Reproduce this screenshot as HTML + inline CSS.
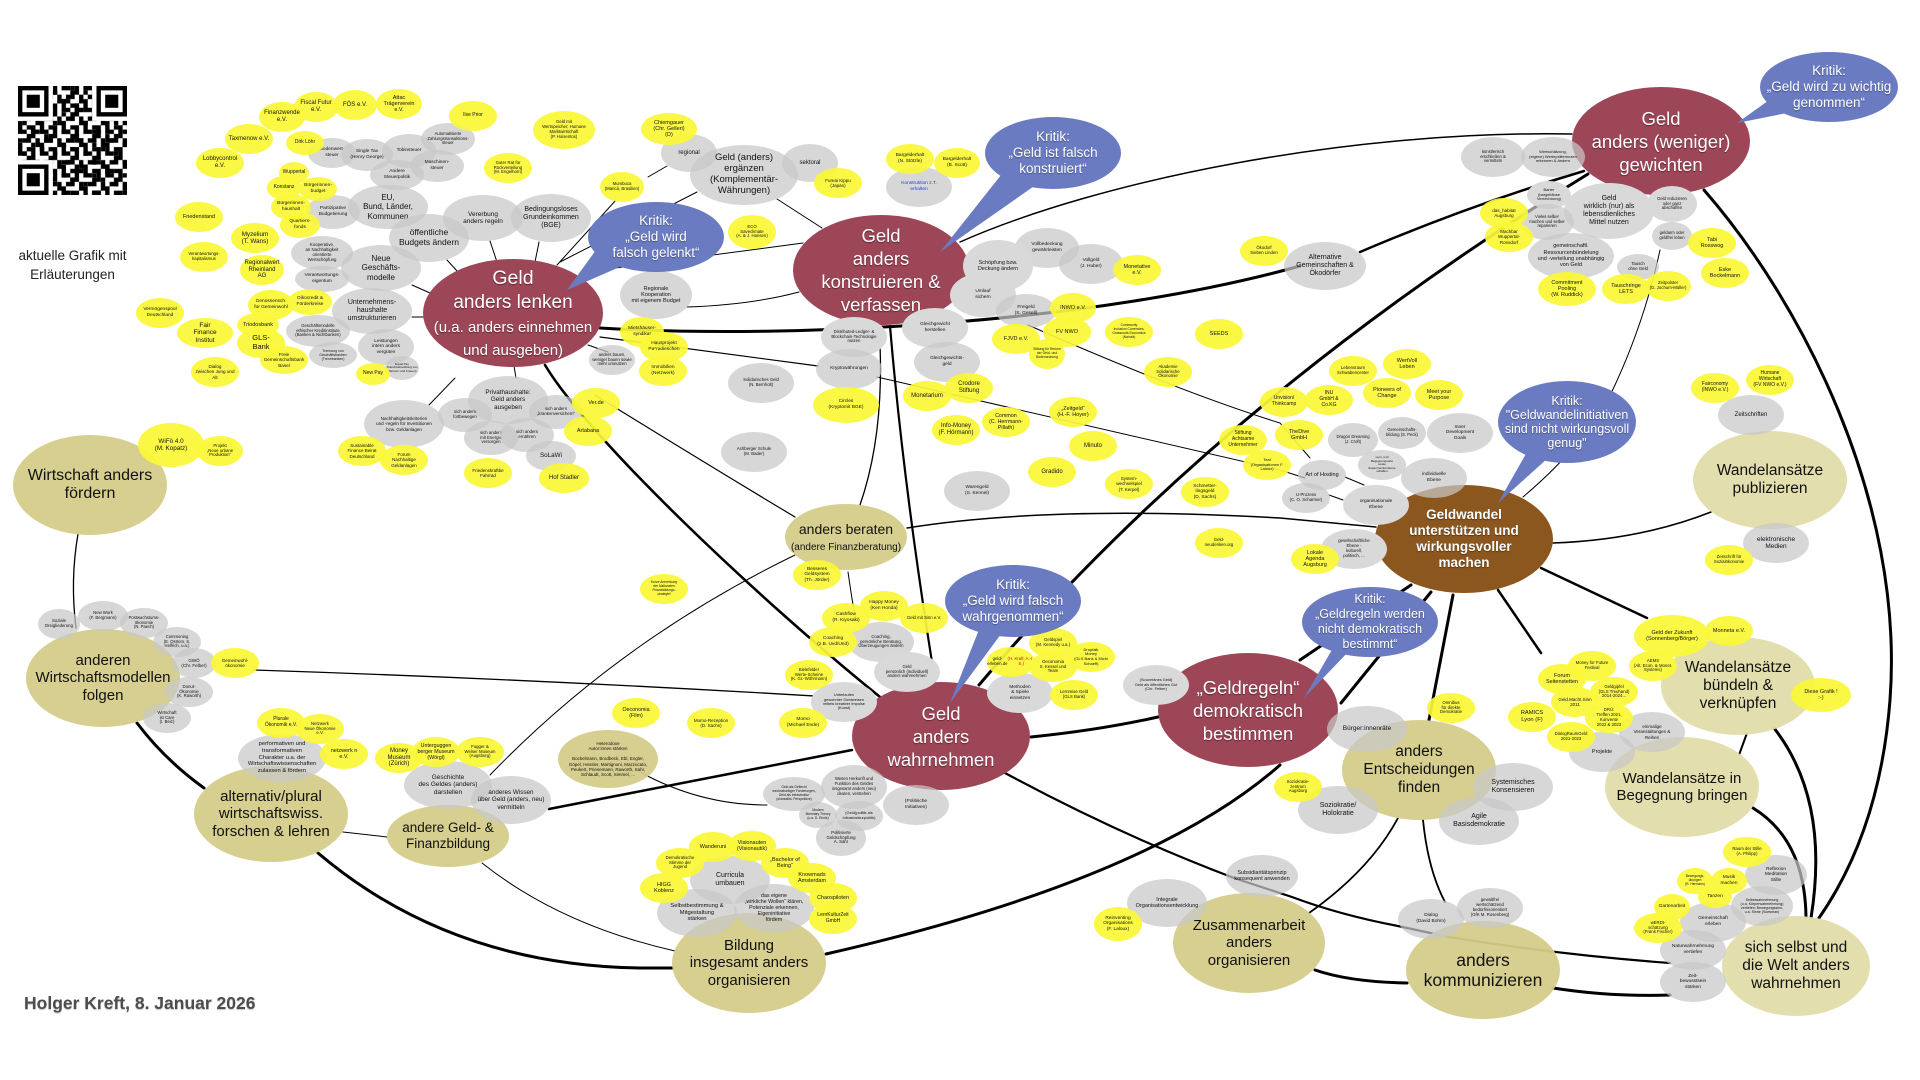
<!DOCTYPE html>
<html><head><meta charset="utf-8">
<style>
html,body{margin:0;padding:0;background:#fff}
body{width:1920px;height:1080px;position:relative;overflow:hidden;font-family:"Liberation Sans",Arial,sans-serif}
.n{position:absolute;border-radius:50%;display:flex;align-items:center;justify-content:center;text-align:center;line-height:1.15;color:#111;white-space:nowrap;box-sizing:border-box}
.y{background:rgba(250,248,55,.93);font-size:5.5px}
.g{background:rgba(200,200,200,.72);font-size:4.8px}
.go{background:#d9d9d9;font-size:4.8px}
.k{background:rgba(212,204,138,.95);font-size:15px}
.kl{background:rgba(225,221,170,.96);font-size:15.5px}
.m{background:#9d4657;color:#fff;font-size:18.5px;line-height:23px;text-shadow:0 1px 1px rgba(0,0,0,.45)}
.br{background:#8c561f;color:#fff;font-size:13.5px;line-height:16px;font-weight:bold;text-shadow:0 1px 1px rgba(0,0,0,.4)}
.b{background:#6a7bc1;color:#fff;font-size:13.5px;line-height:16px;text-shadow:0 1px 1px rgba(0,0,0,.35)}
svg{position:absolute;left:0;top:0}
</style></head><body>

<svg width="1920" height="1080" viewBox="0 0 1920 1080">
<g fill="none" stroke="#000" stroke-linecap="round">
<path d="M545,365 C590,440 760,600 880,697" stroke-width="2.6"/>
<path d="M890,326 Q903,480 932,662" stroke-width="2.2"/>
<path d="M879,326 Q886,430 860,505" stroke-width="1.3"/>
<path d="M600,328 C800,340 1100,322 1300,266" stroke-width="3"/>
<path d="M1360,252 Q1470,205 1584,171" stroke-width="2.5"/>
<path d="M979,685 Q1220,400 1588,174" stroke-width="3"/>
<path d="M960,242 C1100,180 1350,130 1572,134" stroke-width="1.5"/>
<path d="M1704,190 C1800,300 1905,500 1890,700 Q1880,830 1819,918" stroke-width="3"/>
<path d="M1774,728 Q1830,800 1811,918" stroke-width="3"/>
<path d="M1753,808 Q1805,840 1806,917" stroke-width="3"/>
<path d="M1739,755 L1747,733" stroke-width="2"/>
<path d="M1553,543 Q1640,540 1711,512" stroke-width="1.5"/>
<path d="M1541,568 L1647,618" stroke-width="2.5"/>
<path d="M1498,590 L1541,653" stroke-width="2.5"/>
<path d="M1453,595 L1429,720" stroke-width="3"/>
<path d="M1300,660 L1411,585" stroke-width="3"/>
<path d="M1341,703 L1431,592" stroke-width="3"/>
<path d="M1031,737 Q1100,730 1158,717" stroke-width="3"/>
<path d="M826,954 Q1150,880 1280,765" stroke-width="3"/>
<path d="M1005,773 Q1120,835 1234,878 L1292,897 Q1340,915 1398,926 L1449,937 Q1560,955 1670,963" stroke-width="2.2"/>
<path d="M1315,970 Q1350,982 1407,983" stroke-width="3"/>
<path d="M1553,988 Q1610,997 1670,995" stroke-width="3"/>
<path d="M1309,913 Q1370,870 1398,818" stroke-width="1.8"/>
<path d="M1423,820 Q1428,870 1445,902" stroke-width="1.8"/>
<path d="M549,809 L852,750" stroke-width="2.5"/>
<path d="M137,723 Q165,760 204,788" stroke-width="3"/>
<path d="M318,853 Q450,965 640,968 L673,968" stroke-width="3"/>
<path d="M482,863 Q560,925 675,951" stroke-width="1"/>
<path d="M343,832 L387,837" stroke-width="1"/>
<path d="M78,534 Q70,580 76,628" stroke-width="1.3"/>
<path d="M253,670 Q560,680 880,700" stroke-width="1.3"/>
<path d="M640,772 Q700,805 767,805" stroke-width="1"/>
<path d="M490,775 Q620,640 795,555" stroke-width="1"/>
<path d="M595,395 Q700,460 795,517" stroke-width="1.2"/>
<path d="M907,528 Q1050,505 1280,518 L1376,527" stroke-width="1.5"/>
<path d="M1028,325 Q1180,392 1280,423 L1310,458" stroke-width="1"/>
<path d="M877,377 L1280,470 L1305,478" stroke-width="1"/>
<path d="M600,337 L818,366" stroke-width="1.2"/>
<path d="M687,307 Q750,305 799,292" stroke-width="1"/>
<path d="M777,199 L822,228" stroke-width="1"/>
<path d="M600,270 L803,243" stroke-width="1"/>
<path d="M560,262 L697,192" stroke-width="1"/>
<path d="M648,177 L667,166" stroke-width="1"/>
<path d="M557,265 L616,200" stroke-width="1"/>
<path d="M490,241 L497,262 M539,242 L535,262 M447,260 L458,272 M412,285 L430,293 M412,317 L424,317 M514,366 L516,378 M455,378 L429,405 M588,345 L608,352" stroke-width="1"/>
<path d="M848,572 Q852,600 856,622" stroke-width="1"/>
<path d="M1523,497 Q1590,440 1615,385 Q1645,320 1660,250" stroke-width="1"/>
<path d="M1345,477 L1364,485 M1329,495 L1343,500" stroke-width="1"/>
</g>
</svg>

<!-- QR code -->
<svg width="109" height="109" viewBox="0 0 25 25" style="left:18px;top:86px">
<defs>
<pattern id="qp" width="5" height="5" patternUnits="userSpaceOnUse"><path d="M0 0h2v1h-2z M3 0h1v2h-1z M1 2h2v1h-2z M4 2h1v2h-1z M0 3h1v2h-1z M2 4h2v1h-2z M2 1h1v1h-1z" fill="#000"/></pattern>
<pattern id="qp2" width="7" height="7" patternUnits="userSpaceOnUse"><path d="M1 1h1v1h-1z M5 0h1v1h-1z M3 3h2v1h-2z M0 5h1v1h-1z M6 4h1v2h-1z M3 6h1v1h-1z" fill="#000"/></pattern>
</defs>
<rect width="25" height="25" fill="#fff"/>
<rect width="25" height="25" fill="url(#qp)"/>
<rect width="25" height="25" fill="url(#qp2)"/>
<g>
<rect x="0" y="0" width="8" height="8" fill="#fff"/><rect x="0" y="0" width="7" height="7" fill="#000"/><rect x="1" y="1" width="5" height="5" fill="#fff"/><rect x="2" y="2" width="3" height="3" fill="#000"/>
<rect x="17" y="0" width="8" height="8" fill="#fff"/><rect x="18" y="0" width="7" height="7" fill="#000"/><rect x="19" y="1" width="5" height="5" fill="#fff"/><rect x="20" y="2" width="3" height="3" fill="#000"/>
<rect x="0" y="17" width="8" height="8" fill="#fff"/><rect x="0" y="18" width="7" height="7" fill="#000"/><rect x="1" y="19" width="5" height="5" fill="#fff"/><rect x="2" y="20" width="3" height="3" fill="#000"/>
</g>
</svg>
<div style="position:absolute;left:0;top:246px;width:145px;text-align:center;font-size:13.5px;line-height:19px;color:#222">aktuelle Grafik mit<br>Erläuterungen</div>
<div style="position:absolute;left:24px;top:993px;font-size:17.5px;font-weight:bold;color:#4d4d4d;text-shadow:0 1px 1px rgba(0,0,0,.25)">Holger Kreft, 8. Januar 2026</div>

<!-- khaki nodes -->
<div class="n k" style="left:13px;top:435px;width:154px;height:100px;font-size:16px">Wirtschaft anders<br>fördern</div>
<div class="n k" style="left:26px;top:629px;width:154px;height:98px">anderen<br>Wirtschaftsmodellen<br>folgen</div>
<div class="n k" style="left:194px;top:766px;width:154px;height:96px">alternativ/plural<br>wirtschaftswiss.<br>forschen &amp; lehren</div>
<div class="n k" style="left:387px;top:805px;width:122px;height:62px;font-size:13.5px">andere Geld- &amp;<br>Finanzbildung</div>
<div class="n k" style="left:785px;top:504px;width:122px;height:66px;font-size:14px"><div>anders beraten<br><span style="font-size:10px">(andere Finanzberatung)</span></div></div>
<div class="n k" style="left:558px;top:730px;width:100px;height:58px;font-size:4.5px">Heterodoxe<br>Autor:innen stärken<br><br>Bockelmann, Brodbeck, Ebl, Engler,<br>Göpel, Hessler, Martignoni, Mazzucato,<br>Peukert, Priesemann, Raworth, Sahr,<br>Schlaudt, Scott, Simmel, ...</div>
<div class="n k" style="left:672px;top:913px;width:154px;height:100px">Bildung<br>insgesamt anders<br>organisieren</div>
<div class="n k" style="left:1173px;top:893px;width:152px;height:100px">Zusammenarbeit<br>anders<br>organisieren</div>
<div class="n k" style="left:1342px;top:720px;width:154px;height:100px;font-size:15.5px">anders<br>Entscheidungen<br>finden</div>
<div class="n k" style="left:1406px;top:921px;width:154px;height:98px;font-size:17.5px">anders<br>kommunizieren</div>
<div class="n kl" style="left:1693px;top:431px;width:154px;height:98px">Wandelansätze<br>publizieren</div>
<div class="n kl" style="left:1661px;top:637px;width:154px;height:98px">Wandelansätze<br>bündeln &amp;<br>verknüpfen</div>
<div class="n kl" style="left:1605px;top:737px;width:154px;height:100px;font-size:15px">Wandelansätze in<br>Begegnung bringen</div>
<div class="n kl" style="left:1722px;top:916px;width:148px;height:100px">sich selbst und<br>die Welt anders<br>wahrnehmen</div>

<!-- maroon / brown -->
<div class="n m" style="left:423px;top:259px;width:180px;height:108px"><div><span style="font-size:19.5px">Geld</span><br><span style="font-size:19px">anders lenken</span><br><span style="font-size:15px;line-height:18px">(u.a. anders einnehmen<br>und ausgeben)</span></div></div>
<div class="n m" style="left:793px;top:215px;width:176px;height:110px">Geld<br>anders<br>konstruieren &amp;<br>verfassen</div>
<div class="n m" style="left:1572px;top:87px;width:178px;height:108px">Geld<br>anders (weniger)<br>gewichten</div>
<div class="n m" style="left:852px;top:682px;width:178px;height:108px">Geld<br>anders<br>wahrnehmen</div>
<div class="n m" style="left:1158px;top:653px;width:180px;height:114px">„Geldregeln“<br>demokratisch<br>bestimmen</div>
<div class="n br" style="left:1375px;top:485px;width:178px;height:108px">Geldwandel<br>unterstützen und<br>wirkungsvoller<br>machen</div>

<!-- gray nodes -->
<div class="n g" style="left:308px;top:138px;width:48px;height:30px">Bodenwert-<br>steuer</div>
<div class="n g" style="left:341px;top:139px;width:52px;height:32px">Single Tax<br>(Henry George)</div>
<div class="n g" style="left:382px;top:134px;width:54px;height:34px">Tobinsteuer</div>
<div class="n g" style="left:421px;top:123px;width:54px;height:32px;font-size:4.2px">Automatisierte<br>Zahlungstransaktions-<br>steuer</div>
<div class="n g" style="left:410px;top:150px;width:54px;height:32px">Maschinen-<br>steuer</div>
<div class="n g" style="left:370px;top:160px;width:54px;height:30px">Andere<br>Steuerpolitik</div>
<div class="n g" style="left:348px;top:185px;width:80px;height:44px;font-size:8px">EU,<br>Bund, Länder,<br>Kommunen</div>
<div class="n g" style="left:306px;top:195px;width:54px;height:34px">Partizipative<br>Budgetierung</div>
<div class="n g" style="left:389px;top:214px;width:80px;height:48px;font-size:8.5px">öffentliche<br>Budgets ändern</div>
<div class="n g" style="left:443px;top:195px;width:80px;height:46px;font-size:6.5px">Vererbung<br>anders regeln</div>
<div class="n g" style="left:511px;top:194px;width:80px;height:48px;font-size:7px">Bedingungsloses<br>Grundeinkommen<br>(BGE)</div>
<div class="n g" style="left:291px;top:236px;width:62px;height:34px;font-size:4.3px">Kooperative,<br>an Nachhaltigkeit<br>orientierte<br>Wertschöpfung</div>
<div class="n g" style="left:295px;top:266px;width:54px;height:26px">Verantwortungs-<br>eigentum</div>
<div class="n g" style="left:341px;top:245px;width:80px;height:46px;font-size:8px">Neue<br>Geschäfts-<br>modelle</div>
<div class="n g" style="left:332px;top:288px;width:80px;height:46px;font-size:7px">Unternehmens-<br>haushalte<br>umstrukturieren</div>
<div class="n g" style="left:286px;top:315px;width:64px;height:32px;font-size:4.2px">Geschäftsmodelle<br>ethischer Kreditinstitute<br>(Banken &amp; Nichtbanken)</div>
<div class="n g" style="left:309px;top:342px;width:48px;height:26px;font-size:3.5px">Trennung von<br>Geschäftsbanken<br>(Trennbanken)</div>
<div class="n g" style="left:358px;top:329px;width:56px;height:36px">Leistungen<br>intern anders<br>vergüten</div>
<div class="n g" style="left:385px;top:356px;width:34px;height:24px;font-size:3px">Equal Pay<br>(Gleichbehandlung von<br>Männern und Frauen)</div>
<div class="n g" style="left:589px;top:345px;width:46px;height:30px;font-size:4.2px">anders bauen,<br>weniger bauen sowie<br>mehr umnutzen</div>
<div class="n g" style="left:661px;top:134px;width:56px;height:38px;font-size:6px">regional</div>
<div class="n g" style="left:690px;top:145px;width:108px;height:60px;font-size:9.5px">Geld (anders)<br>ergänzen<br>(Komplementär-<br>Währungen)</div>
<div class="n g" style="left:782px;top:144px;width:56px;height:38px;font-size:6px">sektoral</div>
<div class="n g" style="left:886px;top:167px;width:66px;height:40px;color:#1c3fd0">Konstruktion z.T.<br>erhalten</div>
<div class="n g" style="left:620px;top:271px;width:72px;height:48px;font-size:5.5px">Regionale<br>Kooperation<br>mit eigenem Budget</div>
<div class="n g" style="left:1015px;top:228px;width:64px;height:40px">Vollbedeckung<br>gewährleisten</div>
<div class="n go" style="left:963px;top:240px;width:70px;height:52px;font-size:5.5px">Schöpfung bzw.<br>Deckung ändern</div>
<div class="n g" style="left:1059px;top:244px;width:64px;height:40px">Vollgeld<br>(J. Huber)</div>
<div class="n go" style="left:950px;top:273px;width:66px;height:44px">Umlauf<br>sichern</div>
<div class="n g" style="left:996px;top:294px;width:60px;height:34px">Freigeld<br>(S. Gesell)</div>
<div class="n go" style="left:902px;top:308px;width:66px;height:40px">Gleichgewicht<br>herstellen</div>
<div class="n go" style="left:821px;top:317px;width:66px;height:40px;font-size:4.3px">Distributed-Ledger- &amp;<br>Blockchain-Technologie<br>nutzen</div>
<div class="n g" style="left:914px;top:342px;width:66px;height:40px">Gleichgewichts-<br>geld</div>
<div class="n g" style="left:816px;top:349px;width:66px;height:40px">Kryptowährungen</div>
<div class="n g" style="left:728px;top:363px;width:66px;height:40px;font-size:4.3px">Solidarisches Geld<br>(N. Bernholt)</div>
<div class="n g" style="left:721px;top:432px;width:66px;height:40px;font-size:4.3px">Achberger Schule<br>(M. Bader)</div>
<div class="n g" style="left:944px;top:471px;width:66px;height:40px">Warengeld<br>(S. Kennel)</div>
<div class="n g" style="left:1461px;top:137px;width:64px;height:40px;font-size:4.2px">künstlerisch<br>erschließen &amp;<br>vermitteln</div>
<div class="n g" style="left:1521px;top:137px;width:64px;height:40px;font-size:4px">Wertschätzung,<br>(eigene) Wertepräferenzen<br>erkennen &amp; ändern</div>
<div class="n go" style="left:1527px;top:181px;width:44px;height:28px;font-size:4px">Barter<br>(bargeldlose<br>Verrechnung)</div>
<div class="n go" style="left:1564px;top:183px;width:90px;height:56px;font-size:7px">Geld<br>wirklich (nur) als<br>lebensdienliches<br>Mittel nutzen</div>
<div class="n go" style="left:1647px;top:186px;width:50px;height:36px;font-size:4.2px">Geld reduzieren<br>oder ganz<br>abschaffen</div>
<div class="n g" style="left:1520px;top:204px;width:54px;height:36px;font-size:4.2px">Vieles selber<br>machen und selber<br>reparieren</div>
<div class="n g" style="left:1528px;top:233px;width:86px;height:46px;font-size:5.5px">gemeinschaftl.<br>Ressourcenbündelung<br>und -verteilung unabhängig<br>von Geld</div>
<div class="n g" style="left:1652px;top:222px;width:40px;height:28px;font-size:4.2px">geldarm oder<br>geldfrei leben</div>
<div class="n g" style="left:1617px;top:254px;width:42px;height:26px;font-size:4.3px">Tausch<br>ohne Geld</div>
<div class="n g" style="left:1284px;top:242px;width:82px;height:48px;font-size:7px">Alternative<br>Gemeinschaften &amp;<br>Ökodörfer</div>
<div class="n g" style="left:1328px;top:423px;width:50px;height:34px;font-size:4.2px">Dragon Dreaming<br>(J. Croft)</div>
<div class="n g" style="left:1378px;top:417px;width:48px;height:32px;font-size:4.2px">Gemeinschafts-<br>bildung (S. Peck)</div>
<div class="n g" style="left:1427px;top:413px;width:66px;height:40px">Inner<br>Development<br>Goals</div>
<div class="n g" style="left:1358px;top:450px;width:48px;height:30px;font-size:3px">Lern- und<br>Begegnungsorte<br>sowie<br>Experimentierräume<br>schaffen</div>
<div class="n g" style="left:1298px;top:460px;width:48px;height:30px;font-size:5.5px">Art of Hosting</div>
<div class="n g" style="left:1401px;top:458px;width:66px;height:40px">individuelle<br>Ebene</div>
<div class="n g" style="left:1282px;top:483px;width:48px;height:30px;font-size:4.3px">U-Prozess<br>(C. O. Scharmer)</div>
<div class="n go" style="left:1343px;top:485px;width:66px;height:40px">organisationale<br>Ebene</div>
<div class="n go" style="left:1321px;top:529px;width:66px;height:40px;font-size:4.3px">gesellschaftliche<br>Ebene -<br>kulturell,<br>politisch, ...</div>
<div class="n g" style="left:1718px;top:395px;width:66px;height:40px;font-size:6px">Zeitschriften</div>
<div class="n g" style="left:1743px;top:523px;width:66px;height:40px;font-size:6.5px">elektronische<br>Medien</div>
<div class="n g" style="left:1619px;top:712px;width:66px;height:40px;font-size:4.5px">einmalige<br>Veranstaltungen &amp;<br>Reihen</div>
<div class="n g" style="left:1569px;top:732px;width:66px;height:40px;font-size:5.5px">Projekte</div>
<div class="n g" style="left:1327px;top:706px;width:80px;height:46px;font-size:6.5px">Bürger:innenräte</div>
<div class="n g" style="left:1473px;top:763px;width:80px;height:48px;font-size:7px">Systemisches<br>Konsensieren</div>
<div class="n g" style="left:1439px;top:797px;width:80px;height:48px;font-size:7px">Agile<br>Basisdemokratie</div>
<div class="n g" style="left:1298px;top:786px;width:80px;height:48px;font-size:7px">Soziokratie/<br>Holokratie</div>
<div class="n g" style="left:1745px;top:855px;width:62px;height:40px">Reflexion<br>Meditation<br>Stille</div>
<div class="n g" style="left:1731px;top:886px;width:62px;height:40px;font-size:3.6px">Selbstwahrnehmung<br>(u.a. Körperwahrnehmung)<br>vertiefen; Bewegungssinn,<br>u.a. Sinne (Soesman)</div>
<div class="n g" style="left:1680px;top:902px;width:66px;height:40px">Gemeinschaft<br>erleben</div>
<div class="n g" style="left:1660px;top:930px;width:66px;height:40px">Naturwahrnehmung<br>vertiefen</div>
<div class="n g" style="left:1660px;top:962px;width:66px;height:40px">Zeit-<br>bewusstsein<br>stärken</div>
<div class="n g" style="left:1398px;top:899px;width:66px;height:40px">Dialog<br>(David Bohm)</div>
<div class="n g" style="left:1457px;top:888px;width:66px;height:40px;font-size:4.3px">gewaltfrei<br>wertschätzend<br>bedürfnisorientiert<br>(GfK M. Rosenberg)</div>
<div class="n g" style="left:1226px;top:855px;width:72px;height:42px;font-size:5.5px">Subsidiaritätsprinzip<br>konsequent anwenden</div>
<div class="n g" style="left:1127px;top:879px;width:80px;height:48px;font-size:5.5px">Integrale<br>Organisationsentwicklung</div>
<div class="n g" style="left:821px;top:765px;width:66px;height:44px;font-size:4.2px">Wesen Herkunft und<br>Funktion des Geldes<br>insgesamt anders (neu)<br>deuten, verstehen</div>
<div class="n g" style="left:763px;top:777px;width:62px;height:34px;font-size:3.3px">Geld als Geflecht<br>wechselseitiger Forderungen,<br>Geld als Infrastruktur<br>(sharealist. Perspektive)</div>
<div class="n g" style="left:799px;top:802px;width:38px;height:26px;font-size:3.3px">Modern<br>Monetary Theory<br>(u.a. D. Ehnts)</div>
<div class="n g" style="left:835px;top:801px;width:48px;height:30px;font-size:4px">(Geld)politik als<br>Infrastrukturpolitik)</div>
<div class="n g" style="left:883px;top:785px;width:66px;height:40px">(Politische<br>Initiativen)</div>
<div class="n g" style="left:816px;top:820px;width:50px;height:36px;font-size:4.3px">Politisierte<br>Geldschöpfung<br>A. Sahr</div>
<div class="n g" style="left:690px;top:856px;width:80px;height:48px;font-size:7px">Curricula<br>umbauen</div>
<div class="n g" style="left:657px;top:889px;width:80px;height:48px;font-size:5.8px">Selbstbestimmung &amp;<br>Mitgestaltung<br>stärken</div>
<div class="n g" style="left:734px;top:884px;width:80px;height:48px;font-size:5.3px">das eigene<br>„wirkliche Wollen“ klären,<br>Potenziale erkennen,<br>Eigeninitiative<br>fördern</div>
<div class="n g" style="left:238px;top:734px;width:88px;height:48px;font-size:5.8px">performativen und<br>transformativen<br>Charakter u.a. der<br>Wirtschaftswissenschaften<br>zulassen &amp; fördern</div>
<div class="n g" style="left:404px;top:761px;width:88px;height:48px;font-size:6.5px">Geschichte<br>des Geldes (anders)<br>darstellen</div>
<div class="n g" style="left:471px;top:776px;width:80px;height:48px;font-size:6.3px">anderes Wissen<br>über Geld (anders, neu)<br>vermitteln</div>
<div class="n g" style="left:38px;top:609px;width:42px;height:30px;font-size:4.3px">Soziale<br>Dreigliederung</div>
<div class="n g" style="left:78px;top:601px;width:50px;height:30px;font-size:4.3px">New Work<br>(F. Bergmann)</div>
<div class="n g" style="left:120px;top:608px;width:48px;height:30px;font-size:4.2px">Postwachstums-<br>ökonomie<br>(N. Paech)</div>
<div class="n g" style="left:153px;top:627px;width:48px;height:30px;font-size:4.2px">Commoning<br>(E. Ostrom, S.<br>Helfrich, u.a.)</div>
<div class="n g" style="left:172px;top:648px;width:44px;height:30px;font-size:4.5px">GWÖ<br>(Chr. Felber)</div>
<div class="n g" style="left:165px;top:677px;width:48px;height:30px;font-size:4.3px">Donut-<br>Ökonomie<br>(K. Raworth)</div>
<div class="n g" style="left:143px;top:703px;width:48px;height:30px;font-size:4.3px">Wirtschaft<br>ist Care<br>(I. Beiz)</div>
<div class="n g" style="left:364px;top:400px;width:80px;height:48px;font-size:4.5px">Nachhaltigkeitskriterien<br>und -regeln für Investitionen<br>bzw. Geldanlagen</div>
<div class="n g" style="left:468px;top:376px;width:80px;height:48px;font-size:6.3px">Privathaushalte:<br>Geld anders<br>ausgeben</div>
<div class="n g" style="left:438px;top:398px;width:54px;height:34px;font-size:4.3px">sich anders<br>fortbewegen</div>
<div class="n g" style="left:529px;top:395px;width:54px;height:34px;font-size:4.3px">sich anders<br>„krankenversichern“</div>
<div class="n g" style="left:464px;top:421px;width:54px;height:34px;font-size:4.3px">sich anders<br>mit Energie<br>versorgen</div>
<div class="n g" style="left:500px;top:418px;width:54px;height:34px;font-size:4.3px">sich anders<br>ernähren</div>
<div class="n g" style="left:526px;top:441px;width:50px;height:30px;font-size:6.3px">SoLaWi</div>
<div class="n g" style="left:848px;top:622px;width:66px;height:40px;font-size:4.3px">Coaching,<br>persönliche Beratung,<br>Überzeugungen ändern</div>
<div class="n go" style="left:874px;top:652px;width:66px;height:40px;font-size:4.3px">Geld<br>persönlich (individuell)<br>anders wahrnehmen</div>
<div class="n go" style="left:811px;top:682px;width:66px;height:40px;font-size:3.9px">Unterlaufen<br>gewohnter Sichtweisen<br>mittels kreativer Impulse<br>(Kunst)</div>
<div class="n go" style="left:987px;top:673px;width:66px;height:40px">Methoden<br>&amp; Spiele<br>einsetzen</div>
<div class="n go" style="left:1123px;top:665px;width:66px;height:40px;font-size:3.9px">(Souveränes Geld)<br>Geld als öffentliches Gut<br>(Chr. Felber)</div>

<!-- yellow nodes -->
<div class="n y" style="left:294px;top:92px;width:44px;height:30px;font-size:6px">Fiscal Futur<br>e.V.</div>
<div class="n y" style="left:333px;top:90px;width:44px;height:30px;font-size:6px">FÖS e.V.</div>
<div class="n y" style="left:376px;top:89px;width:46px;height:30px">Attac<br>Trägerverein<br>e.V.</div>
<div class="n y" style="left:259px;top:102px;width:46px;height:30px;font-size:6px">Finanzwende<br>e.V.</div>
<div class="n y" style="left:449px;top:101px;width:48px;height:30px;font-size:5px">Ilse Prior</div>
<div class="n y" style="left:533px;top:111px;width:62px;height:38px;font-size:4.3px">Geld mit<br>Wertspeicher; Humane<br>Marktwirtschaft<br>(P. Hoisentos)</div>
<div class="n y" style="left:225px;top:124px;width:48px;height:30px;font-size:6px">Taxmenow e.V.</div>
<div class="n y" style="left:286px;top:131px;width:38px;height:24px;font-size:5px">Dirk Löhr</div>
<div class="n y" style="left:196px;top:148px;width:48px;height:30px;font-size:6px">Lobbycontrol<br>e.V.</div>
<div class="n y" style="left:484px;top:153px;width:48px;height:30px;font-size:4.3px">Guter Rat für<br>Rückverteilung<br>(M. Engelhorn)</div>
<div class="n y" style="left:279px;top:162px;width:30px;height:22px;font-size:5px">Wuppertal</div>
<div class="n y" style="left:267px;top:176px;width:34px;height:24px;font-size:5px">Konstanz</div>
<div class="n y" style="left:299px;top:177px;width:38px;height:24px;font-size:4.8px">Bürgerinnen-<br>budget</div>
<div class="n y" style="left:271px;top:194px;width:40px;height:26px;font-size:4.8px">Bürgerinnen-<br>haushalt</div>
<div class="n y" style="left:280px;top:212px;width:40px;height:26px;font-size:4.8px">Quartiers-<br>fonds</div>
<div class="n y" style="left:175px;top:202px;width:48px;height:30px;font-size:5.5px">Friedenstand</div>
<div class="n y" style="left:231px;top:223px;width:48px;height:30px;font-size:6.3px">Myzelium<br>(T. Wans)</div>
<div class="n y" style="left:180px;top:242px;width:48px;height:30px;font-size:4.3px">Verantwortungs-<br>kapitalismus</div>
<div class="n y" style="left:240px;top:255px;width:44px;height:30px;font-size:6px">Regionalwert<br>Rheinland<br>AG</div>
<div class="n y" style="left:248px;top:290px;width:46px;height:30px;font-size:4.8px">Genossensch.<br>für Gemeinwohl</div>
<div class="n y" style="left:288px;top:289px;width:44px;height:26px;font-size:4.8px">Oikocredit &amp;<br>Förderkreise</div>
<div class="n y" style="left:136px;top:298px;width:48px;height:30px;font-size:4.8px">Vermögenspool<br>Deutschland</div>
<div class="n y" style="left:237px;top:313px;width:42px;height:24px;font-size:5.5px">Triodosbank</div>
<div class="n y" style="left:177px;top:318px;width:56px;height:30px;font-size:6.5px">Fair<br>Finance<br>Institut</div>
<div class="n y" style="left:237px;top:328px;width:48px;height:30px;font-size:7.5px">GLS-<br>Bank</div>
<div class="n y" style="left:260px;top:346px;width:48px;height:28px;font-size:4.6px">Freie<br>Gemeinschaftsbank<br>Basel</div>
<div class="n y" style="left:191px;top:357px;width:48px;height:30px;font-size:4.6px">Dialog<br>zwischen Jung und<br>Alt</div>
<div class="n y" style="left:356px;top:363px;width:34px;height:22px;font-size:5px">New Pay</div>
<div class="n y" style="left:600px;top:172px;width:44px;height:30px;font-size:4.3px">Mumbuca<br>(Maricá, Brasilien)</div>
<div class="n y" style="left:641px;top:113px;width:56px;height:32px;font-size:5.5px">Chiemgauer<br>(Chr. Gelleri)<br>(D)</div>
<div class="n y" style="left:814px;top:168px;width:48px;height:30px;font-size:4.5px">Fureai Kippu<br>(Japan)</div>
<div class="n y" style="left:886px;top:144px;width:48px;height:30px;font-size:4.8px">Bargelderhalt<br>(N. Stötzle)</div>
<div class="n y" style="left:934px;top:148px;width:46px;height:30px;font-size:4.8px">Bargelderhalt<br>(B. Scott)</div>
<div class="n y" style="left:728px;top:215px;width:48px;height:34px;font-size:4.3px">ECO<br>Saveclimate<br>(A. &amp; J. Hansen)</div>
<div class="n y" style="left:1113px;top:255px;width:48px;height:30px;font-size:5.5px">Monetative<br>e.V.</div>
<div class="n y" style="left:1050px;top:293px;width:46px;height:30px">INWO e.V.</div>
<div class="n y" style="left:1043px;top:317px;width:48px;height:30px">FV NWO</div>
<div class="n y" style="left:992px;top:324px;width:48px;height:30px">FJVD e.V.</div>
<div class="n y" style="left:1029px;top:339px;width:36px;height:30px;font-size:3.3px">Stiftung für Reform<br>der Geld- und<br>Bodenordnung</div>
<div class="n y" style="left:1105px;top:317px;width:48px;height:30px;font-size:3.3px">Community<br>Inclusion Currencies,<br>Grassroots Economics<br>(Nairobi)</div>
<div class="n y" style="left:1195px;top:319px;width:48px;height:30px">SEEDS</div>
<div class="n y" style="left:1144px;top:357px;width:48px;height:30px;font-size:4.3px">Akademie<br>Solidarische<br>Ökonomie</div>
<div class="n y" style="left:1240px;top:236px;width:48px;height:30px;font-size:4.3px">Ökodorf<br>Sieben Linden</div>
<div class="n y" style="left:903px;top:381px;width:48px;height:30px;font-size:6px">Monetarium</div>
<div class="n y" style="left:945px;top:373px;width:48px;height:30px;font-size:6px">Crodore<br>Stiftung</div>
<div class="n y" style="left:813px;top:387px;width:66px;height:36px;font-size:4.8px">Circles<br>(Kryptomit BGE)</div>
<div class="n y" style="left:620px;top:317px;width:44px;height:30px;font-size:4.8px">Mietshäuser-<br>syndikat</div>
<div class="n y" style="left:640px;top:332px;width:48px;height:30px;font-size:4.8px">Hausprojekt<br>Pa*radieschen</div>
<div class="n y" style="left:639px;top:356px;width:48px;height:30px;font-size:4.8px">Immobilien<br>(Netzwerk)</div>
<div class="n y" style="left:1480px;top:198px;width:48px;height:30px;font-size:4.5px">das_habitat<br>Augsburg</div>
<div class="n y" style="left:1485px;top:222px;width:48px;height:30px;font-size:4.5px">Machbar<br>Wuppertal-<br>Ronsdorf</div>
<div class="n y" style="left:1688px;top:228px;width:48px;height:30px">Tabi<br>Rosswog</div>
<div class="n y" style="left:1701px;top:258px;width:48px;height:30px">Eske<br>Bockelmann</div>
<div class="n y" style="left:1538px;top:272px;width:58px;height:34px;font-size:5.5px">Commitment<br>Pooling<br>(W. Ruddick)</div>
<div class="n y" style="left:1602px;top:274px;width:48px;height:30px;font-size:5.5px">Tauschringe<br>LETS</div>
<div class="n y" style="left:1645px;top:271px;width:46px;height:30px;font-size:4.3px">Zeitpolster<br>(G. Jochum-Müller)</div>
<div class="n y" style="left:1329px;top:356px;width:48px;height:30px;font-size:4.3px">Lebensraum<br>Schwabencenter</div>
<div class="n y" style="left:1383px;top:349px;width:48px;height:30px">WertVoll<br>Leben</div>
<div class="n y" style="left:1363px;top:378px;width:48px;height:30px">Pioneers of<br>Change</div>
<div class="n y" style="left:1415px;top:380px;width:48px;height:30px">Meet your<br>Purpose</div>
<div class="n y" style="left:1305px;top:385px;width:48px;height:30px;font-size:5px">INU<br>GmbH &amp;<br>Co.KG</div>
<div class="n y" style="left:1260px;top:387px;width:48px;height:30px;font-size:5px">Unvision/<br>Thinkcamp</div>
<div class="n y" style="left:1691px;top:373px;width:48px;height:30px;font-size:5px">Fairconomy<br>(INWO e.V.)</div>
<div class="n y" style="left:1746px;top:365px;width:48px;height:30px;font-size:5px">Humane<br>Wirtschaft<br>(FV NWO e.V.)</div>
<div class="n y" style="left:1275px;top:420px;width:48px;height:30px">TheDive<br>GmbH</div>
<div class="n y" style="left:1219px;top:425px;width:48px;height:30px;font-size:5px">Stiftung<br>Achtsame<br>Unternehmer</div>
<div class="n y" style="left:1243px;top:450px;width:48px;height:30px;font-size:4px">Teal<br>(Organisationen F.<br>Laloux)</div>
<div class="n y" style="left:1705px;top:545px;width:48px;height:30px;font-size:4.3px">Zeitschrift für<br>Sozialökonomie</div>
<div class="n y" style="left:1291px;top:544px;width:48px;height:30px;font-size:5.5px">Lokale<br>Agenda<br>Augsburg</div>
<div class="n y" style="left:1634px;top:615px;width:76px;height:42px;font-size:5.5px">Geld der Zukunft<br>(Sonnenberg/Börger)</div>
<div class="n y" style="left:1705px;top:616px;width:48px;height:30px;font-size:5.5px">Monneta e.V.</div>
<div class="n y" style="left:1629px;top:651px;width:48px;height:30px;font-size:4.3px">AEMS<br>(Alt. Econ. &amp; Monet.<br>Systems)</div>
<div class="n y" style="left:1791px;top:678px;width:60px;height:34px;font-size:5.5px">Diese Grafik !<br>:-)</div>
<div class="n y" style="left:1568px;top:651px;width:48px;height:30px;font-size:4.3px">Money for Future<br>Festival</div>
<div class="n y" style="left:1538px;top:664px;width:48px;height:30px">Forum<br>Seitenstetten</div>
<div class="n y" style="left:1590px;top:677px;width:48px;height:30px;font-size:4.3px">Geldgipfel<br>(GLS Treuhand)<br>2014-2024...</div>
<div class="n y" style="left:1551px;top:687px;width:48px;height:30px;font-size:4.5px">Geld.Macht.Sinn<br>2011</div>
<div class="n y" style="left:1508px;top:702px;width:48px;height:30px;font-size:5.8px">RAMICS<br>Lyon (F)</div>
<div class="n y" style="left:1585px;top:703px;width:48px;height:30px;font-size:4.3px">DRÜ:<br>Treffen 2021,<br>Konvente<br>2022 &amp; 2023</div>
<div class="n y" style="left:1547px;top:722px;width:48px;height:30px;font-size:4.3px">DialogRaumGeld<br>2021-2023</div>
<div class="n y" style="left:1427px;top:693px;width:48px;height:30px;font-size:4.3px">Omnibus<br>für direkte<br>Demokratie</div>
<div class="n y" style="left:1274px;top:772px;width:48px;height:30px;font-size:4.3px">Soziokratie-<br>zentrum<br>Augsburg</div>
<div class="n y" style="left:1723px;top:837px;width:48px;height:30px;font-size:4.3px">Raum der Stille<br>(A. Philipp)</div>
<div class="n y" style="left:1677px;top:868px;width:36px;height:26px;font-size:3.3px">Bewegungs-<br>übungen<br>(R. Hermann)</div>
<div class="n y" style="left:1711px;top:868px;width:36px;height:26px;font-size:4.8px">Musik<br>machen</div>
<div class="n y" style="left:1698px;top:886px;width:34px;height:22px;font-size:4.8px">Tanzen</div>
<div class="n y" style="left:1654px;top:894px;width:36px;height:26px;font-size:4.8px">Gartenarbeit</div>
<div class="n y" style="left:1634px;top:913px;width:48px;height:30px;font-size:4.3px">wERDt-<br>schätzung<br>(Frank Fischer)</div>
<div class="n y" style="left:1094px;top:907px;width:48px;height:34px;font-size:4.8px">Reinventing<br>Organisations<br>(F. Laloux)</div>
<div class="n y" style="left:689px;top:832px;width:48px;height:30px">Wanderuni</div>
<div class="n y" style="left:728px;top:831px;width:48px;height:30px">Visionauten<br>(Visionautik)</div>
<div class="n y" style="left:656px;top:848px;width:48px;height:30px;font-size:4.3px">Demokratische<br>Stimme der<br>Jugend</div>
<div class="n y" style="left:761px;top:848px;width:48px;height:30px">„Bachelor of<br>Being“</div>
<div class="n y" style="left:788px;top:863px;width:48px;height:30px">Knowmads<br>Amsterdam</div>
<div class="n y" style="left:640px;top:873px;width:48px;height:30px">HIGG<br>Koblenz</div>
<div class="n y" style="left:809px;top:883px;width:48px;height:30px">Chaospiloten</div>
<div class="n y" style="left:809px;top:904px;width:48px;height:30px;font-size:5px">LernKulturZeit<br>GmbH</div>
<div class="n y" style="left:138px;top:423px;width:66px;height:44px;font-size:6.3px">WiFö 4.0<br>(M. Kopatz)</div>
<div class="n y" style="left:197px;top:436px;width:46px;height:30px;font-size:4.3px">Projekt<br>„Neue urbane<br>Produktion“</div>
<div class="n y" style="left:211px;top:648px;width:48px;height:30px;font-size:4.5px">Gemeinwohl-<br>ökonomie</div>
<div class="n y" style="left:257px;top:708px;width:48px;height:30px;font-size:5px">Plurale<br>Ökonomik e.V.</div>
<div class="n y" style="left:296px;top:714px;width:48px;height:30px;font-size:4.3px">Netzwerk<br>Neue Ökonomie<br>e.V.</div>
<div class="n y" style="left:320px;top:739px;width:48px;height:30px">netzwerk n<br>e.V.</div>
<div class="n y" style="left:375px;top:743px;width:48px;height:30px;font-size:6px">Money<br>Museum<br>(Zürich)</div>
<div class="n y" style="left:412px;top:737px;width:48px;height:30px;font-size:5.3px">Unterguggen<br>berger Museum<br>(Wörgl)</div>
<div class="n y" style="left:456px;top:737px;width:48px;height:30px;font-size:4.3px">Fugger &amp;<br>Welser Museum<br>(Augsburg)</div>
<div class="n y" style="left:572px;top:388px;width:48px;height:30px">Ver.de</div>
<div class="n y" style="left:564px;top:416px;width:48px;height:30px">Artabana</div>
<div class="n y" style="left:338px;top:436px;width:48px;height:30px;font-size:4.5px">Sustainable<br>Finance Beirat<br>Deutschland</div>
<div class="n y" style="left:380px;top:445px;width:48px;height:30px;font-size:4.5px">Forum<br>Nachhaltige<br>Geldanlagen</div>
<div class="n y" style="left:464px;top:458px;width:48px;height:30px;font-size:4.5px">Friedenskraftbe<br>Fahrrad</div>
<div class="n y" style="left:539px;top:463px;width:50px;height:30px;font-size:6px">Hof Stadler</div>
<div class="n y" style="left:932px;top:415px;width:48px;height:30px;font-size:6px">Info-Money<br>(F. Hörmann)</div>
<div class="n y" style="left:982px;top:407px;width:48px;height:30px;font-size:5.3px">Common<br>(C. Herrmann-<br>Pillath)</div>
<div class="n y" style="left:1049px;top:397px;width:48px;height:30px">„Zeitgeld“<br>(H.-F. Hoyer)</div>
<div class="n y" style="left:1069px;top:431px;width:48px;height:30px;font-size:6px">Minuto</div>
<div class="n y" style="left:1028px;top:457px;width:48px;height:30px;font-size:6px">Gradido</div>
<div class="n y" style="left:1105px;top:469px;width:48px;height:30px;font-size:4.5px">System-<br>wechselspiel<br>(T. Kerpel)</div>
<div class="n y" style="left:1181px;top:477px;width:48px;height:30px;font-size:4.8px">Schmetter-<br>lingsgeld<br>(D. Sachs)</div>
<div class="n y" style="left:1195px;top:528px;width:48px;height:30px;font-size:4.3px">Geld-<br>neudenken.org</div>
<div class="n y" style="left:793px;top:560px;width:48px;height:30px;font-size:4.8px">Besseres<br>Geldsystem<br>(Th. Jörder)</div>
<div class="n y" style="left:640px;top:574px;width:48px;height:30px;font-size:3.3px;font-style:italic">Kurze Anmerkung<br>der Nationalen<br>Finanzbildungs-<br>strategie!</div>
<div class="n y" style="left:860px;top:591px;width:48px;height:30px;font-size:4.8px">Happy Money<br>(Ken Honda)</div>
<div class="n y" style="left:822px;top:603px;width:48px;height:30px;font-size:4.8px">Cashflow<br>(R. Kiyosaki)</div>
<div class="n y" style="left:900px;top:603px;width:48px;height:30px;font-size:4.3px">Geld mit Sinn e.V.</div>
<div class="n y" style="left:809px;top:627px;width:48px;height:30px;font-size:4.8px">Coaching<br>(z.B. Uvd/Und)</div>
<div class="n y" style="left:785px;top:660px;width:48px;height:30px;font-size:4.3px">Bielefelder<br>Werte-Scheine<br>(K. Gr.-Wöhrmann)</div>
<div class="n y" style="left:1029px;top:628px;width:48px;height:30px;font-size:4.3px">Geldspiel<br>(M. Kennedy u.a.)</div>
<div class="n y" style="left:1067px;top:642px;width:48px;height:30px;font-size:4px">Dropfalk<br>Money<br>(GLS Bank &amp; Michi<br>Schaeff)</div>
<div class="n y" style="left:987px;top:647px;width:48px;height:30px;font-size:4.3px">geld-<br>erleben.de<br><span style="color:#d01010">(H. Kraft, A.-L.<br>S.)</span></div>
<div class="n y" style="left:1029px;top:652px;width:48px;height:30px;font-size:4.3px">Oeconomia<br>S. Kessel und<br>Team</div>
<div class="n y" style="left:1050px;top:680px;width:48px;height:30px;font-size:4.3px">Lernreise Geld<br>(GLS Bank)</div>
<div class="n y" style="left:779px;top:708px;width:48px;height:30px;font-size:4.8px">Momo<br>(Michael Ende)</div>
<div class="n y" style="left:687px;top:708px;width:48px;height:30px;font-size:4.5px">Momo-Rezeption<br>(D. Sachs)</div>
<div class="n y" style="left:612px;top:698px;width:48px;height:30px;font-size:5.3px">Oeconomia<br>(Film)</div>

<!-- Kritik tails -->
<svg width="1920" height="1080" viewBox="0 0 1920 1080">
<g fill="#6a7bc1">
<polygon points="596,250 622,266 567,290"/>
<polygon points="1005,170 1040,182 940,252"/>
<polygon points="1772,98 1792,112 1737,123"/>
<polygon points="982,622 1004,630 950,703"/>
<polygon points="1527,452 1548,458 1498,503"/>
<polygon points="1333,648 1350,650 1304,698"/>
</g>
</svg>

<!-- Kritik bubbles -->
<div class="n b" style="left:588px;top:202px;width:136px;height:70px">Kritik:<br>„Geld wird<br>falsch gelenkt“</div>
<div class="n b" style="left:985px;top:117px;width:136px;height:72px">Kritik:<br>„Geld ist falsch<br>konstruiert“</div>
<div class="n b" style="left:1760px;top:52px;width:138px;height:70px">Kritik:<br>„Geld wird zu wichtig<br>genommen“</div>
<div class="n b" style="left:945px;top:565px;width:136px;height:72px">Kritik:<br>„Geld wird falsch<br>wahrgenommen“</div>
<div class="n b" style="left:1498px;top:381px;width:138px;height:82px;font-size:12.5px;line-height:14px">Kritik:<br>"Geldwandelinitiativen<br>sind nicht wirkungsvoll<br>genug"</div>
<div class="n b" style="left:1302px;top:587px;width:136px;height:70px;font-size:12.5px;line-height:15px">Kritik:<br>„Geldregeln werden<br>nicht demokratisch<br>bestimmt“</div>

</body></html>
